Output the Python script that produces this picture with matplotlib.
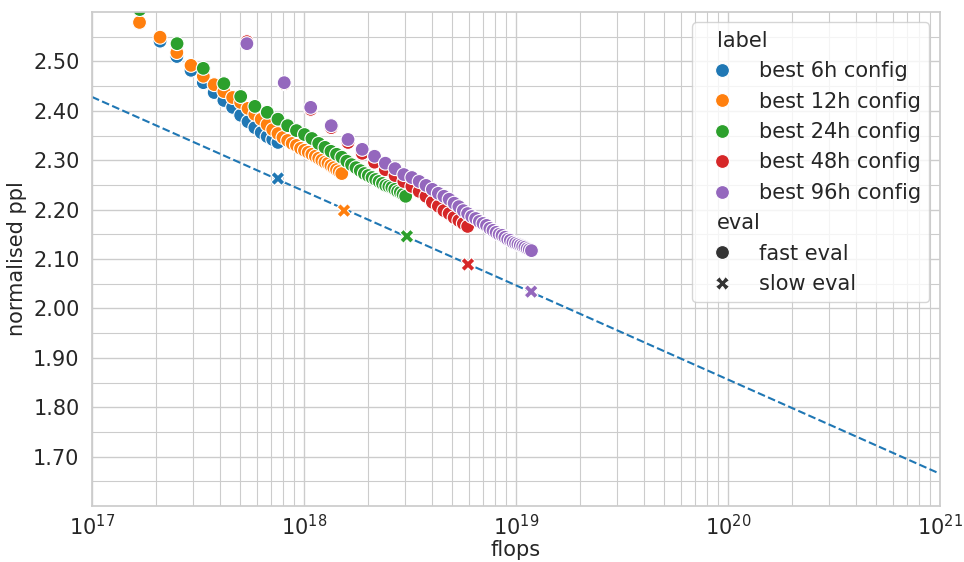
import numpy as np
import pandas as pd
import matplotlib
matplotlib.use("Agg")
import matplotlib.pyplot as plt
import matplotlib.ticker as mticker
from matplotlib.offsetbox import VPacker
import seaborn as sns

# flops in units of 1e17
blue_flops = [1.676, 2.095, 2.514, 2.933, 3.352, 3.771, 4.19, 4.609, 5.028, 5.447,
              5.866, 6.285, 6.704, 7.123, 7.542]
blue_ppl = [2.578, 2.541, 2.510, 2.482, 2.457, 2.437, 2.421, 2.407, 2.391, 2.378,
            2.366, 2.356, 2.348, 2.342, 2.336]

orange_flops = [1.676, 2.095, 2.514, 2.933, 3.352, 3.771, 4.19, 4.609, 5.028, 5.447,
                5.866, 6.285, 6.704, 7.123, 7.542, 7.961, 8.38, 8.80, 9.22, 9.64,
                10.06, 10.48, 10.90, 11.32, 11.74, 12.15, 12.57, 12.99, 13.41, 13.83,
                14.25, 14.67, 15.08]
orange_ppl = [2.579, 2.549, 2.518, 2.492, 2.470, 2.453, 2.439, 2.427, 2.417, 2.405,
              2.393, 2.383, 2.372, 2.362, 2.354, 2.346, 2.340, 2.334, 2.330, 2.324,
              2.320, 2.316, 2.312, 2.308, 2.304, 2.300, 2.296, 2.294, 2.289, 2.285,
              2.281, 2.277, 2.273]

green_flops = [1.68, 2.52, 3.35, 4.19, 5.03, 5.87, 6.71, 7.54, 8.38, 9.22,
               10.06, 10.90, 11.74, 12.57, 13.41, 14.25, 15.09, 15.93, 16.77, 17.60,
               18.44, 19.28, 20.12, 20.96, 21.80, 22.63, 23.47, 24.31, 25.15, 25.99,
               26.83, 27.67, 28.50, 29.34, 30.18]
green_ppl = [2.605, 2.536, 2.486, 2.455, 2.429, 2.409, 2.397, 2.383, 2.370, 2.360,
             2.352, 2.344, 2.334, 2.326, 2.318, 2.312, 2.306, 2.298, 2.291, 2.285,
             2.279, 2.273, 2.269, 2.265, 2.261, 2.257, 2.253, 2.249, 2.247, 2.245,
             2.241, 2.237, 2.235, 2.231, 2.227]

red_flops = [5.38, 8.07, 10.76, 13.45, 16.14, 18.83, 21.52, 24.21, 26.90, 29.59,
             32.28, 34.97, 37.66, 40.35, 43.04, 45.73, 48.42, 51.11, 53.80, 56.49,
             59.18]
red_ppl = [2.540, 2.455, 2.403, 2.366, 2.336, 2.314, 2.296, 2.281, 2.269, 2.257,
           2.247, 2.237, 2.227, 2.215, 2.207, 2.198, 2.192, 2.184, 2.178, 2.172,
           2.166]

purple_flops = [5.38, 8.07, 10.76, 13.45, 16.14, 18.83, 21.52, 24.21, 26.90, 29.59,
                32.28, 34.97, 37.66, 40.35, 43.04, 45.73, 48.42, 51.11, 53.80, 56.49,
                59.18, 61.87, 64.56, 67.25, 69.94, 72.63, 75.32, 78.01, 80.70, 83.39,
                86.08, 88.77, 91.46, 94.15, 96.84, 99.53, 102.22, 104.91, 107.60, 110.29,
                112.98, 115.67, 118.36]
purple_ppl = [2.536, 2.457, 2.407, 2.370, 2.342, 2.322, 2.308, 2.294, 2.283, 2.271,
              2.265, 2.257, 2.249, 2.241, 2.233, 2.227, 2.221, 2.213, 2.206, 2.198,
              2.192, 2.186, 2.182, 2.176, 2.172, 2.168, 2.162, 2.158, 2.154, 2.150,
              2.148, 2.144, 2.140, 2.138, 2.134, 2.132, 2.130, 2.128, 2.126, 2.124,
              2.121, 2.119, 2.117]

labels = ["best 6h config", "best 12h config", "best 24h config",
          "best 48h config", "best 96h config"]

# slow eval (one per config)
slow_flops = [7.54, 15.45, 30.6, 59.4, 118.0]
slow_ppl = [2.263, 2.198, 2.146, 2.089, 2.034]

fast = [(blue_flops, blue_ppl), (orange_flops, orange_ppl), (green_flops, green_ppl),
        (red_flops, red_ppl), (purple_flops, purple_ppl)]

rows = []
for lab, (fl, pp) in zip(labels, fast):
    for f, p in zip(fl, pp):
        rows.append((f * 1e17, p, lab, "fast eval"))
for lab, f, p in zip(labels, slow_flops, slow_ppl):
    rows.append((f * 1e17, p, lab, "slow eval"))
df = pd.DataFrame(rows, columns=["flops", "normalised ppl", "label", "eval"])

sns.set_theme(style="whitegrid")
plt.rcParams["font.family"] = ["DejaVu Sans"]
plt.rcParams["legend.fontsize"] = 15
plt.rcParams["legend.title_fontsize"] = 15
plt.rcParams["legend.loc"] = "upper right"

fig = plt.figure(figsize=(9.64, 5.62), dpi=100)
ax = fig.add_axes([0.0954, 0.0996, 0.8796, 0.879])

# fitted trend through slow eval points
coef = np.polyfit(np.log10(np.array(slow_flops) * 1e17), slow_ppl, 1)
xs = np.array([1e17, 1e21])
ax.plot(xs, np.polyval(coef, np.log10(xs)), "--", color="tab:blue", lw=1.5, zorder=1)

sns.scatterplot(data=df, x="flops", y="normalised ppl", hue="label", style="eval",
                palette="tab10", s=100, ax=ax, zorder=2)

ax.set_xscale("log")
ax.set_xlim(1e17, 1e21)
ax.set_ylim(1.6, 2.6)
ax.yaxis.set_major_locator(mticker.FixedLocator(np.round(np.arange(1.7, 2.51, 0.1), 2)))
ax.yaxis.set_minor_locator(mticker.FixedLocator(np.round(np.arange(1.65, 2.56, 0.1), 2)))
ax.yaxis.set_major_formatter(mticker.FormatStrFormatter("%.2f"))
ax.grid(which="major", color=".8", lw=1)
ax.grid(which="minor", color=".8", lw=0.8)
ax.tick_params(axis="y", which="major", labelsize=15, pad=3)
ax.tick_params(axis="x", which="major", labelsize=15, pad=0)
ax.tick_params(axis="both", which="minor", length=0)
ax.set_xlabel("flops", fontsize=15, labelpad=0)
ax.set_ylabel("normalised ppl", fontsize=15)

# make the "label" / "eval" entries look like subtitles
leg = ax.get_legend()
for hpack in leg.findobj(VPacker)[0].get_children():
    draw_area, text_area = hpack.get_children()
    txt = [t.get_text() for t in text_area.get_children() if hasattr(t, "get_text")]
    if any(s in ("label", "eval") for s in txt):
        draw_area.set_width(0)

fig.savefig("out.png", dpi=100)
